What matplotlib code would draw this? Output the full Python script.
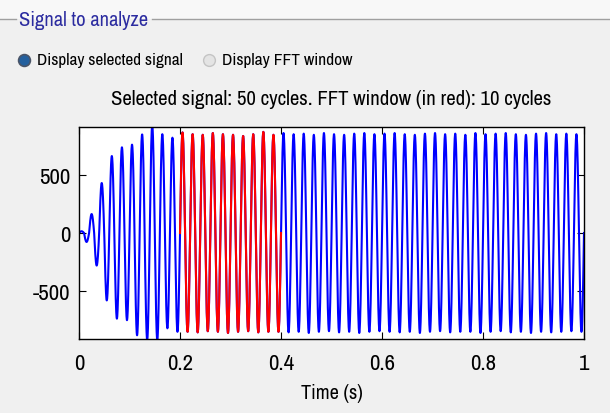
import numpy as np
import matplotlib
matplotlib.use("Agg")
import matplotlib.pyplot as plt
from matplotlib import font_manager
from matplotlib.lines import Line2D
from matplotlib.patches import Rectangle

# signal: 50 Hz, extremes per cycle
f0 = 50
peaks = [15, 163, 430, 662, 737, 760, 848, 925, 850, 820,
         865, 850, 845, 860, 850, 845, 835, 850, 870, 845,
         860, 850, 855, 845, 860, 850, 845, 855, 860, 850,
         855, 860, 850, 845, 855, 860, 850, 855, 845, 860,
         850, 855, 860, 850, 845, 855, 860, 850, 855, 850]
troughs = [-77, -280, -580, -737, -750, -880, -920, -920, -820, -850,
           -850, -855, -845, -850, -860, -850, -845, -855, -850, -850,
           -855, -850, -860, -850, -845, -855, -850, -860, -850, -845,
           -850, -855, -850, -860, -850, -845, -855, -850, -850, -860,
           -850, -845, -855, -850, -860, -850, -855, -850, -845, -850]
fft_start, fft_stop = 0.2, 0.4
xticks = [0, 0.2, 0.4, 0.6, 0.8, 1]
xtick_labels = ['0', '0.2', '0.4', '0.6', '0.8', '1']
yticks = [-500, 0, 500]

names = {f.name for f in font_manager.fontManager.ttflist}
fam = 'Liberation Sans'
for cand in ['Archivo Narrow', 'PT Sans Narrow', 'Liberation Sans Narrow']:
    if cand in names:
        fam = cand
        break
plt.rcParams['font.family'] = [fam, 'DejaVu Sans']
plt.rcParams['axes.unicode_minus'] = False

# each half cycle is a sine arch with its own extreme value
extremes = np.ravel(np.column_stack([peaks, troughs]))
t = np.linspace(0, 1, 4001)
idx = np.minimum((t * 2 * f0).astype(int), len(extremes) - 1)
y = extremes[idx] * np.abs(np.sin(2 * np.pi * f0 * t))
win = (t >= fft_start) & (t <= fft_stop)

W, H = 610, 414
fig = plt.figure(figsize=(W / 100, H / 100), dpi=100, facecolor='#f0f0f0')
renderer = fig.canvas.get_renderer()


def fit_size(s, width_px):
    # font size that makes string s about width_px wide
    tmp = fig.text(0, 0, s, fontsize=10)
    w = tmp.get_window_extent(renderer).width
    tmp.remove()
    return 10 * width_px / w


# panel frame
fig.add_artist(Rectangle((0, 1 - 20 / H), 1, 20 / H, transform=fig.transFigure,
                         facecolor='#f8f8f8', edgecolor='none'))
for x0, x1 in [(0, 16), (152, W)]:
    fig.add_artist(Line2D([x0 / W, x1 / W], [1 - 20 / H] * 2, transform=fig.transFigure,
                          color='#a0a0a0', lw=1))
fig.text(19 / W, 1 - 20 / H, 'Signal to analyze', color='#2c2ca0',
         fontsize=fit_size('Signal to analyze', 130), ha='left', va='center')

# radio buttons
fig.add_artist(Line2D([24 / W], [1 - 61 / H], transform=fig.transFigure, marker='o',
                      markersize=8.5, markerfacecolor='#24609e', markeredgecolor='#4a5568',
                      markeredgewidth=1.2))
fig.text(37 / W, 1 - 61 / H, 'Display selected signal',
         fontsize=fit_size('Display selected signal', 146), ha='left', va='center')
fig.add_artist(Line2D([209 / W], [1 - 61 / H], transform=fig.transFigure, marker='o',
                      markersize=8.5, markerfacecolor='#e4e4e4', markeredgecolor='#c4c4c4'))
fig.text(222 / W, 1 - 61 / H, 'Display FFT window',
         fontsize=fit_size('Display FFT window', 130), ha='left', va='center')

ax = fig.add_axes([79 / W, 1 - 340 / H, 505 / W, 212 / H])
ax.plot(t, y, color='#0000ff', lw=1.5)
ax.plot(t[win], y[win], color='#ff0000', lw=1.5)
ax.set_xlim(0, 1)
ax.set_ylim(-912, 912)
ax.set_xticks(xticks)
ax.set_xticklabels(xtick_labels)
ax.set_yticks(yticks)
ax.tick_params(direction='in', top=True, right=True, length=5, width=0.8,
               labelsize=fit_size('500', 31))
ax.tick_params(axis='x', pad=10)
ax.tick_params(axis='y', pad=6)
for s in ax.spines.values():
    s.set_linewidth(1.0)

title = 'Selected signal: 50 cycles. FFT window (in red): 10 cycles'
fig.text(331.5 / W, 1 - 100 / H, title, fontsize=fit_size(title, 441),
         ha='center', va='center')
ax.set_xlabel('Time (s)', fontsize=fit_size('Time (s)', 62), labelpad=7)

fig.savefig('out.png', dpi=100, facecolor=fig.get_facecolor())
